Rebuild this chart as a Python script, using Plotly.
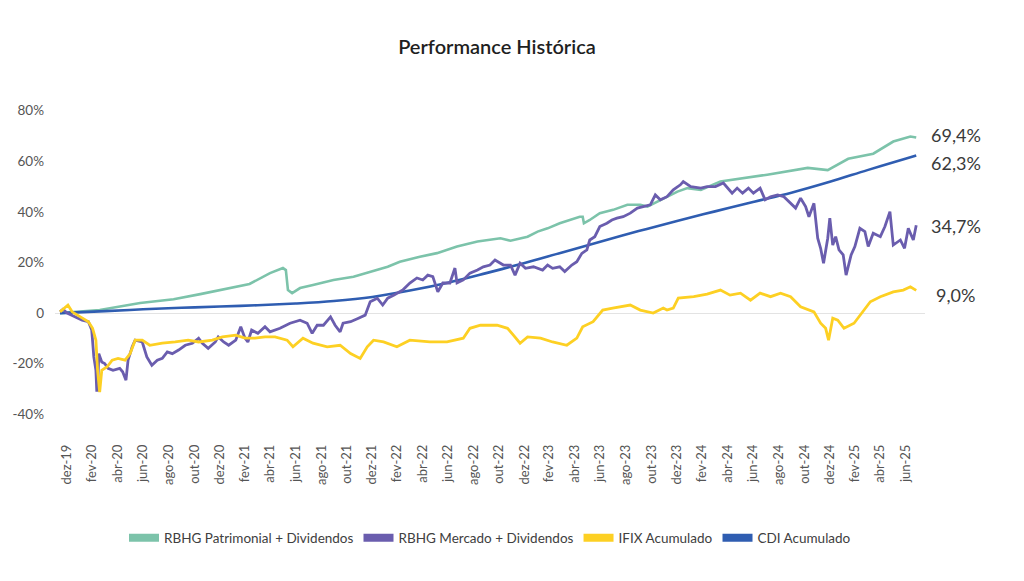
import plotly.graph_objects as go

# ---------------- DATA ----------------
patr_dates = ["2019-12-14","2020-03-18","2020-06-23","2020-09-11","2020-11-14","2020-12-15","2021-03-12",
              "2021-04-30","2021-05-31","2021-06-07","2021-06-12","2021-06-22","2021-07-11","2021-08-11",
              "2021-09-29","2021-11-16","2021-12-26","2022-02-06","2022-03-07","2022-04-24","2022-06-04",
              "2022-07-22","2022-09-09","2022-10-02","2022-11-03","2022-11-27","2022-12-20","2023-01-07",
              "2023-01-31","2023-02-24","2023-03-25","2023-04-18","2023-05-12","2023-05-19","2023-05-22",
              "2023-06-05","2023-06-29","2023-07-31","2023-09-03","2023-10-04","2023-10-21","2024-01-01",
              "2024-01-25","2024-02-26","2024-04-13","2024-08-03","2024-11-08","2024-12-26","2025-02-13",
              "2025-04-14","2025-06-01","2025-07-12","2025-07-26"]
patr_vals = [0.0, 1.2, 4.0, 5.5, 7.5, 8.5, 11.5,
             15.8, 17.8, 17.0, 9.1, 7.9, 9.9, 11.1,
             13.1, 14.4, 16.4, 18.3, 20.3, 22.3, 23.7,
             26.3, 28.3, 28.9, 29.6, 28.6, 29.6, 30.2,
             32.2, 33.5, 35.5, 36.8, 38.1, 38.1, 35.5,
             36.8, 39.5, 40.8, 42.8, 42.8, 42.1, 48.0,
             49.4, 48.7, 52.0, 54.7, 57.4, 56.5, 61.0,
             63.0, 67.8, 69.8, 69.4]

merc_dates = ["2019-12-14","2019-12-21","2019-12-31","2020-01-19","2020-02-05","2020-02-20","2020-02-28",
              "2020-03-04","2020-03-09","2020-03-11","2020-03-13","2020-03-16","2020-03-23","2020-03-30",
              "2020-04-07","2020-04-19","2020-05-05","2020-05-12","2020-05-20","2020-05-25","2020-06-04",
              "2020-06-11","2020-06-28","2020-07-09","2020-07-21","2020-08-03","2020-08-15","2020-08-27",
              "2020-09-08","2020-09-23","2020-10-09","2020-10-26","2020-11-10","2020-11-19","2020-12-03",
              "2020-12-20","2020-12-27","2021-01-09","2021-01-21","2021-02-07","2021-02-19","2021-03-01",
              "2021-03-08","2021-03-17","2021-04-01","2021-04-18","2021-04-30","2021-05-24","2021-06-17",
              "2021-07-11","2021-07-28","2021-08-09","2021-08-21","2021-09-05","2021-09-22","2021-10-03",
              "2021-10-15","2021-10-22","2021-11-09","2021-11-28","2021-12-14","2021-12-26","2022-01-12",
              "2022-01-25","2022-02-06","2022-02-20","2022-03-14","2022-03-31","2022-04-17","2022-05-01",
              "2022-05-13","2022-05-25","2022-06-06","2022-06-18","2022-07-05","2022-07-17","2022-07-22",
              "2022-08-06","2022-08-22","2022-09-09","2022-09-23","2022-10-09","2022-10-21","2022-11-10",
              "2022-11-27","2022-12-08","2022-12-20","2023-01-02","2023-01-21","2023-02-12","2023-02-24",
              "2023-03-08","2023-03-25","2023-04-06","2023-04-23","2023-05-05","2023-05-17","2023-05-29",
              "2023-06-05","2023-06-17","2023-06-29","2023-07-16","2023-07-28","2023-08-09","2023-08-24",
              "2023-09-10","2023-09-27","2023-10-11","2023-10-28","2023-11-09","2023-11-21","2023-12-07",
              "2023-12-22","2024-01-08","2024-01-15","2024-02-02","2024-02-26","2024-03-12","2024-04-01",
              "2024-04-20","2024-05-01","2024-05-11","2024-05-23","2024-06-05","2024-06-19","2024-07-01",
              "2024-07-17","2024-07-29","2024-08-11","2024-08-28","2024-09-12","2024-09-24","2024-10-10",
              "2024-10-22","2024-11-03","2024-11-11","2024-11-23","2024-12-02","2024-12-09","2024-12-16",
              "2024-12-26","2024-12-31","2025-01-07","2025-01-14","2025-01-22","2025-02-01","2025-02-08",
              "2025-02-20","2025-03-01","2025-03-13","2025-03-25","2025-04-02","2025-04-14","2025-05-01",
              "2025-05-12","2025-05-24","2025-06-01","2025-06-18","2025-06-28","2025-07-07","2025-07-19",
              "2025-07-26"]
merc_vals = [0.5, 1.5, 0.0, -1.5, -2.8, -3.4, -6.7,
             -17.3, -22.6, -30.5, -30.5, -16.0, -19.3, -19.9,
             -21.8, -22.6, -21.8, -23.2, -26.5, -18.6, -13.3,
             -10.7, -11.4, -17.3, -20.6, -18.6, -17.9, -15.3,
             -16.0, -14.6, -12.7, -11.9, -9.9, -11.9, -13.9,
             -11.4, -9.4, -11.4, -12.7, -10.7, -5.4, -9.9,
             -11.4, -6.7, -8.0, -5.4, -7.4, -6.0, -4.0,
             -2.8, -4.0, -8.0, -4.8, -4.8, -1.5, -4.8,
             -7.4, -4.0, -3.4, -2.0, -0.8, 4.5, 5.9,
             3.2, 5.9, 7.1, 9.1, 11.9, 13.9, 13.1,
             15.0, 14.4, 8.4, 11.9, 11.9, 17.8, 11.9,
             13.1, 15.8, 17.0, 18.3, 19.0, 21.0, 19.0,
             19.0, 15.0, 19.7, 17.7, 18.3, 17.0, 19.0,
             17.7, 18.3, 16.4, 19.0, 20.3, 23.6, 25.0,
             28.9, 30.2, 34.2, 35.5, 36.8, 37.5, 38.1,
             39.5, 41.5, 42.1, 42.8, 46.7, 44.8, 46.0,
             48.7, 50.7, 52.0, 50.0, 49.4, 50.0, 50.0,
             51.4, 49.4, 47.4, 49.4, 47.4, 49.4, 47.4,
             49.4, 44.8, 46.0, 46.7, 46.0, 44.1, 41.5,
             45.4, 42.1, 38.1, 43.4, 29.6, 25.6, 19.7,
             29.6, 37.5, 26.9, 30.2, 25.0, 23.0, 15.0,
             23.0, 26.3, 33.5, 32.2, 26.3, 31.6, 30.2,
             34.2, 40.1, 26.9, 28.9, 25.6, 33.5, 28.9,
             34.7]

ifix_dates = ["2019-12-14","2020-01-02","2020-01-12","2020-02-05","2020-02-20","2020-03-01","2020-03-09",
              "2020-03-13","2020-03-18","2020-03-23","2020-04-05","2020-04-17","2020-05-01","2020-05-18",
              "2020-05-30","2020-06-11","2020-06-28","2020-07-16","2020-08-15","2020-09-15","2020-10-16",
              "2020-11-10","2020-12-13","2021-01-06","2021-02-07","2021-03-01","2021-03-25","2021-04-18",
              "2021-05-12","2021-06-10","2021-06-24","2021-07-18","2021-08-11","2021-09-14","2021-10-15",
              "2021-11-09","2021-12-02","2021-12-19","2022-01-03","2022-01-27","2022-02-28","2022-03-31",
              "2022-05-18","2022-06-28","2022-08-06","2022-08-22","2022-09-16","2022-10-26","2022-11-20",
              "2022-12-04","2022-12-20","2023-01-07","2023-02-07","2023-03-08","2023-04-11","2023-05-05",
              "2023-05-19","2023-06-13","2023-07-06","2023-07-30","2023-09-10","2023-10-04","2023-11-04",
              "2023-11-28","2023-12-07","2023-12-22","2024-01-03","2024-02-09","2024-03-12","2024-04-13",
              "2024-05-06","2024-05-31","2024-06-24","2024-07-17","2024-08-11","2024-09-04","2024-09-28",
              "2024-10-22","2024-11-23","2024-12-09","2024-12-21","2024-12-28","2025-01-07","2025-01-19",
              "2025-02-03","2025-02-27","2025-03-13","2025-04-07","2025-05-01","2025-06-01","2025-06-25",
              "2025-07-12","2025-07-26"]
ifix_vals = [0.5, 3.2, 0.5, -2.0, -3.4, -6.0, -10.7,
             -22.6, -31.2, -22.6, -21.2, -18.6, -17.9, -18.6,
             -16.0, -10.7, -10.7, -12.7, -11.9, -11.4, -10.7,
             -11.4, -10.7, -9.4, -8.7, -9.9, -9.9, -9.4,
             -9.4, -10.7, -13.3, -9.9, -11.9, -13.3, -12.7,
             -16.0, -17.9, -13.3, -10.7, -11.4, -13.3, -10.7,
             -11.4, -11.4, -9.9, -6.0, -4.8, -4.8, -6.0,
             -8.7, -11.9, -9.4, -9.9, -11.4, -12.7, -9.9,
             -5.4, -3.4, 1.2, 2.0, 3.2, 1.2, 0.0,
             2.0, 1.2, 2.0, 5.9, 6.5, 7.5, 9.1,
             7.1, 7.9, 5.1, 7.9, 6.5, 7.9, 6.5,
             2.5, 0.5, -4.0, -6.0, -10.7, -2.0, -2.8,
             -6.0, -4.0, -0.8, 4.5, 6.5, 8.4, 9.1,
             10.4, 9.0]

cdi_dates = ["2019-12-14","2020-03-31","2020-06-30","2020-09-30","2020-12-31","2021-03-31","2021-06-30",
             "2021-09-30","2021-12-31","2022-03-31","2022-06-30","2022-09-30","2022-12-31","2023-03-31",
             "2023-06-30","2023-09-30","2023-12-31","2024-03-31","2024-06-30","2024-09-30","2024-12-31",
             "2025-03-31","2025-06-30","2025-07-26"]
cdi_vals = [0.0, 0.8, 1.5, 2.1, 2.6, 3.1, 3.8,
            4.8, 6.4, 8.9, 12.0, 15.8, 19.8, 24.0,
            28.2, 32.4, 36.4, 40.2, 43.9, 47.6, 51.9,
            56.5, 61.0, 62.3]

series_names = ["RBHG Patrimonial + Dividendos", "RBHG Mercado + Dividendos", "IFIX Acumulado", "CDI Acumulado"]

tick_dates = ["2019-12-31","2020-02-29","2020-04-30","2020-06-30","2020-08-31","2020-10-31","2020-12-31",
              "2021-02-28","2021-04-30","2021-06-30","2021-08-31","2021-10-31","2021-12-31",
              "2022-02-28","2022-04-30","2022-06-30","2022-08-31","2022-10-31","2022-12-31",
              "2023-02-28","2023-04-30","2023-06-30","2023-08-31","2023-10-31","2023-12-31",
              "2024-02-29","2024-04-30","2024-06-30","2024-08-31","2024-10-31","2024-12-31",
              "2025-02-28","2025-04-30","2025-06-30"]
tick_labels = ["dez-19","fev-20","abr-20","jun-20","ago-20","out-20","dez-20",
               "fev-21","abr-21","jun-21","ago-21","out-21","dez-21",
               "fev-22","abr-22","jun-22","ago-22","out-22","dez-22",
               "fev-23","abr-23","jun-23","ago-23","out-23","dez-23",
               "fev-24","abr-24","jun-24","ago-24","out-24","dez-24",
               "fev-25","abr-25","jun-25"]
y_ticks = [-40, -20, 0, 20, 40, 60, 80]
y_tick_labels = ["-40%", "-20%", "0", "20%", "40%", "60%", "80%"]

# ---------------- STYLE ----------------
C_PATR = "#7CC3AA"
C_MERC = "#6A5DAE"
C_IFIX = "#FDD023"
C_CDI = "#2F5DB1"
FONT = "Lato, 'Open Sans', sans-serif"

fig = go.Figure()

fig.add_trace(go.Scatter(x=patr_dates, y=patr_vals, mode="lines", line=dict(color=C_PATR, width=2.6),
                         showlegend=False, name=series_names[0]))
fig.add_trace(go.Scatter(x=cdi_dates, y=cdi_vals, mode="lines", line=dict(color=C_CDI, width=2.6, shape="spline"),
                         showlegend=False, name=series_names[3]))
fig.add_trace(go.Scatter(x=merc_dates, y=merc_vals, mode="lines", line=dict(color=C_MERC, width=2.8),
                         showlegend=False, name=series_names[1]))
fig.add_trace(go.Scatter(x=ifix_dates, y=ifix_vals, mode="lines", line=dict(color=C_IFIX, width=2.8),
                         showlegend=False, name=series_names[2]))

# legend entries (thick swatches)
for nm, col in zip(series_names, [C_PATR, C_MERC, C_IFIX, C_CDI]):
    fig.add_trace(go.Scatter(x=[None], y=[None], mode="lines", name=nm,
                             line=dict(color=col, width=8), showlegend=True))

# end-value labels
end_vals = [patr_vals[-1], cdi_vals[-1], merc_vals[-1], ifix_vals[-1]]
label_y = [70.5, 59.4, 34.5, 7.1]
for v, ly in zip(end_vals, label_y):
    fig.add_annotation(x=1.0356, xref="paper", y=ly, yref="y",
                       text=f"{v:.1f}".replace(".", ",") + "%", showarrow=False,
                       xanchor="center", yanchor="middle",
                       font=dict(family=FONT, size=18, color="#3a3a3a"))

fig.update_layout(
    width=1016, height=573,
    paper_bgcolor="white", plot_bgcolor="white",
    margin=dict(l=47, r=99, t=90, b=154, autoexpand=False),
    title=dict(text="Performance Histórica", x=0.4813, xref="container", xanchor="center",
               y=0.932, yref="container", yanchor="middle",
               font=dict(family=FONT, size=20, color="#1f1f1f", weight=600)),
    font=dict(family=FONT, color="#555555"),
    showlegend=True,
    legend=dict(orientation="h", x=0.5, xanchor="center", xref="paper",
                y=-0.337, yanchor="middle", yref="paper",
                font=dict(family=FONT, size=13.5, color="#404040"),
                itemwidth=30, traceorder="normal"),
    xaxis=dict(type="date", range=["2019-12-02", "2025-08-16"], automargin=False,
               tickvals=tick_dates, ticktext=tick_labels, tickangle=-90,
               tickfont=dict(family=FONT, size=13, color="#555555"),
               showgrid=False, zeroline=False, showline=False, ticks="",
               ticklabelstandoff=14),
    yaxis=dict(range=[-45, 85], tickvals=y_ticks, ticktext=y_tick_labels, automargin=False,
               tickfont=dict(family=FONT, size=13.5, color="#555555"),
               showgrid=False, zeroline=True, zerolinecolor="#E3E3E3", zerolinewidth=1.2,
               showline=False, ticks="", ticklabelstandoff=10),
)

fig.write_html("out.html")
